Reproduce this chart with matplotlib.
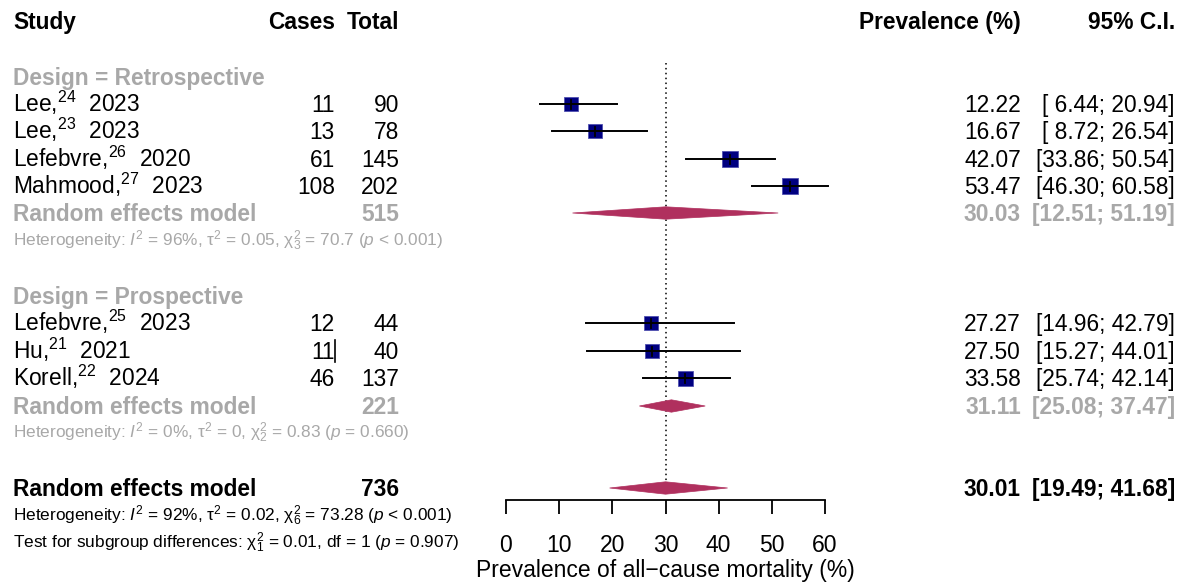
import matplotlib
matplotlib.use("Agg")
import matplotlib.pyplot as plt
from matplotlib.patches import Polygon

plt.rcParams['font.family'] = ['Liberation Sans', 'DejaVu Sans']
plt.rcParams['mathtext.fontset'] = 'custom'
plt.rcParams['mathtext.rm'] = 'Liberation Sans'
plt.rcParams['mathtext.it'] = 'Liberation Sans:italic'
plt.rcParams['mathtext.bf'] = 'Liberation Sans:bold'

# ---------------- data ----------------
study_names = ["Lee", "Lee", "Lefebvre", "Mahmood", "Lefebvre", "Hu", "Korell"]
study_refs = ["24", "23", "26", "27", "25", "21", "22"]
study_years = ["2023", "2023", "2020", "2023", "2023", "2021", "2024"]
study_group = ["Retrospective"] * 4 + ["Prospective"] * 3
cases = [11, 13, 61, 108, 12, 11, 46]
totals = [90, 78, 145, 202, 44, 40, 137]
prev = [12.22, 16.67, 42.07, 53.47, 27.27, 27.50, 33.58]
ci_low = [6.44, 8.72, 33.86, 46.30, 14.96, 15.27, 25.74]
ci_high = [20.94, 26.54, 50.54, 60.58, 42.79, 44.01, 42.14]

groups = ["Retrospective", "Prospective"]
group_total = [515, 221]
group_prev = [30.03, 31.11]
group_low = [12.51, 25.08]
group_high = [51.19, 37.47]
group_het = [r"Heterogeneity: $I^2$ = 96%, $\mathrm{\tau}^2$ = 0.05, $\mathrm{\chi}^2_3$ = 70.7 ($p$ < 0.001)",
             r"Heterogeneity: $I^2$ = 0%, $\mathrm{\tau}^2$ = 0, $\mathrm{\chi}^2_2$ = 0.83 ($p$ = 0.660)"]

overall_total = 736
overall_prev = 30.01
overall_low = 19.49
overall_high = 41.68
overall_het = r"Heterogeneity: $I^2$ = 92%, $\mathrm{\tau}^2$ = 0.02, $\mathrm{\chi}^2_6$ = 73.28 ($p$ < 0.001)"
subgroup_test = r"Test for subgroup differences: $\mathrm{\chi}^2_1$ = 0.01, df = 1 ($p$ = 0.907)"

xticks = [0, 10, 20, 30, 40, 50, 60]
xlabel = "Prevalence of all\u2212cause mortality (%)"

# ---------------- layout / style ----------------
W, H = 1183, 586
GRAY = '#A8A8A8'
SQ = '#000080'
DIA = '#B0305E'
FS = 16.4
FS_SMALL = 12.4

study_y = [104, 131, 159, 186, 323, 351, 378]
group_label_y = [77, 296]
group_model_y = [213, 406]
group_het_y = [240, 432]
overall_y = 488
overall_het_y = 515
test_y = 542
box_px = [14.5, 14.5, 15.5, 16, 14.5, 14, 15]

X_STUDY, X_CASES, X_TOTAL, X_PREV, X_CI = 13, 335, 399, 1021, 1175

fig = plt.figure(figsize=(W / 100, H / 100), dpi=100)

# text layer
axt = fig.add_axes([0, 0, 1, 1])
axt.set_xlim(0, W)
axt.set_ylim(H, 0)
axt.axis('off')

def txt(x, y, s, ha='left', color='black', weight='normal', size=FS):
    half_cap = 0.358 * size * 100 / 72
    axt.text(x, y + half_cap, s, ha=ha, va='baseline', color=color, fontweight=weight, fontsize=size)

# header
txt(X_STUDY, 21, "Study", weight='bold')
txt(X_CASES, 21, "Cases", ha='right', weight='bold')
txt(X_TOTAL, 21, "Total", ha='right', weight='bold')
txt(X_PREV, 21, "Prevalence (%)", ha='right', weight='bold')
txt(X_CI, 21, "95% C.I.", ha='right', weight='bold')

def fmt_ci(lo, hi):
    return f"[{lo:5.2f}; {hi:5.2f}]"

for i in range(len(study_names)):
    y = study_y[i]
    txt(X_STUDY, y, study_names[i] + r",$^{" + study_refs[i] + r"}$  " + study_years[i])
    txt(X_CASES, y, str(cases[i]), ha='right')
    txt(X_TOTAL, y, str(totals[i]), ha='right')
    txt(X_PREV, y, f"{prev[i]:.2f}", ha='right')
    txt(X_CI, y, fmt_ci(ci_low[i], ci_high[i]), ha='right')

# stray cursor bar next to Hu cases
axt.plot([335.5, 335.5], [340, 362], color='black', lw=1.2)

for g in range(len(groups)):
    txt(X_STUDY, group_label_y[g], "Design = " + groups[g], color=GRAY, weight='bold')
    txt(X_STUDY, group_model_y[g], "Random effects model", color=GRAY, weight='bold')
    txt(X_TOTAL, group_model_y[g], str(group_total[g]), ha='right', color=GRAY, weight='bold')
    txt(X_PREV, group_model_y[g], f"{group_prev[g]:.2f}", ha='right', color=GRAY, weight='bold')
    txt(X_CI, group_model_y[g], fmt_ci(group_low[g], group_high[g]), ha='right', color=GRAY, weight='bold')
    txt(X_STUDY, group_het_y[g], group_het[g], color=GRAY, size=FS_SMALL)

txt(X_STUDY, overall_y, "Random effects model", weight='bold')
txt(X_TOTAL, overall_y, str(overall_total), ha='right', weight='bold')
txt(X_PREV, overall_y, f"{overall_prev:.2f}", ha='right', weight='bold')
txt(X_CI, overall_y, fmt_ci(overall_low, overall_high), ha='right', weight='bold')
txt(X_STUDY, overall_het_y, overall_het, size=FS_SMALL)
txt(X_STUDY, test_y, subgroup_test, size=FS_SMALL)

# forest layer
x0, x1 = 506, 825
axf = fig.add_axes([x0 / W, 0, (x1 - x0) / W, 1])
axf.set_xlim(0, 60)
axf.set_ylim(H, 0)
axf.patch.set_visible(False)
for s in ['top', 'left', 'right']:
    axf.spines[s].set_visible(False)
axf.spines['bottom'].set_position(('data', 500))
axf.spines['bottom'].set_linewidth(1.3)
axf.set_yticks([])
axf.set_xticks(xticks)
axf.set_xticklabels([str(t) for t in xticks], fontsize=16.5)
axf.tick_params(axis='x', direction='out', length=10, width=1.3, pad=14.5)
axf.set_xlabel(xlabel, fontsize=16.5, labelpad=1.5)

# reference line
axf.plot([overall_prev, overall_prev], [63, 492], color='black', lw=1.1, ls=(0, (1, 2.2)), clip_on=False)

for i in range(len(prev)):
    y = study_y[i]
    axf.plot([prev[i]], [y], marker='s', ms=box_px[i] * 0.72, mfc=SQ, mec='#5050B0', mew=0.6,
             ls='none', clip_on=False, zorder=3)
    axf.plot([ci_low[i], ci_high[i]], [y, y], color='black', lw=1.4, clip_on=False, zorder=4)
    axf.plot([prev[i], prev[i]], [y - 4.5, y + 4.5], color='black', lw=1.3, zorder=4, clip_on=False)

def diamond(lo, est, hi, y, h=6.2):
    axf.add_patch(Polygon([[lo, y], [est, y - h], [hi, y], [est, y + h]], closed=True,
                          facecolor=DIA, edgecolor=DIA, lw=0.5, clip_on=False, zorder=3))

for g in range(len(groups)):
    diamond(group_low[g], group_prev[g], group_high[g], group_model_y[g])
diamond(overall_low, overall_prev, overall_high, overall_y)

fig.savefig("out.png", dpi=100)
